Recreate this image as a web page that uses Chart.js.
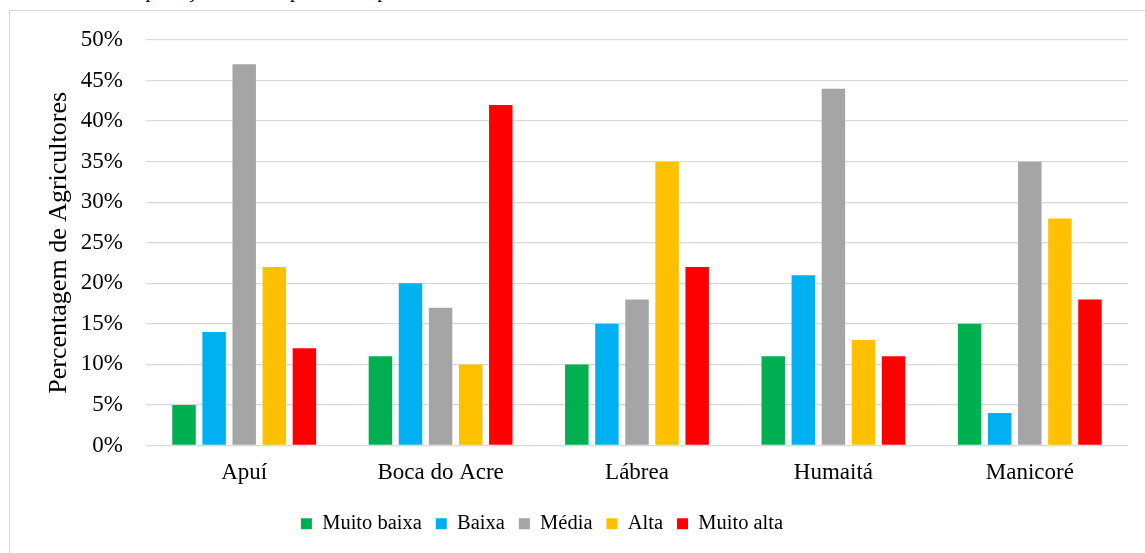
<!DOCTYPE html>
<html>
<head>
<meta charset="utf-8">
<script src="https://cdn.jsdelivr.net/npm/chart.js@4"></script>
<style>
  html, body { margin: 0; padding: 0; background: #fff; overflow: hidden; }
  #frame { position: absolute; left: 9px; top: 10px; width: 1200px; height: 600px; border: 1px solid #d9d9d9; }
  #caption { position: absolute; left: 28px; top: -20px; font: 20px "Liberation Serif", serif; color: #000; white-space: nowrap; line-height: 20px; }
  #wrap { position: absolute; left: 0; top: 0; width: 1145px; height: 553px; }
</style>
</head>
<body>
<div id="caption">Gráfico 11. Importação Cultural por município</div>
<div id="frame"></div>
<div id="wrap"><canvas id="myChart" width="1145" height="553"></canvas></div>
<script>
const municipios = ["Apuí", "Boca do Acre", "Lábrea", "Humaitá", "Manicoré"];

const muitoBaixa = [5, 11, 10, 11, 15];
const baixa = [14, 20, 15, 21, 4];
const media = [47, 17, 18, 44, 35];
const alta = [22, 10, 35, 13, 28];
const muitoAlta = [12, 42, 22, 11, 18];

const yTicks = [0, 5, 10, 15, 20, 25, 30, 35, 40, 45, 50];

const fonte = "'Liberation Serif', 'Times New Roman', serif";

function serie(label, values, color) {
    return {
        label: label,
        data: values,
        backgroundColor: color,
        borderWidth: 0,
        categoryPercentage: 0.766,
        barPercentage: 0.78
    };
}

let data = {
    labels: municipios,
    datasets: [
        serie("Muito baixa", muitoBaixa, "#00B050"),
        serie("Baixa", baixa, "#00B0F0"),
        serie("Média", media, "#A5A5A5"),
        serie("Alta", alta, "#FFC000"),
        serie("Muito alta", muitoAlta, "#FF0000")
    ]
};

// move legend a bit to the left, like the original
const legendShift = {
    id: "legendShift",
    afterLayout(chart) {
        chart.legend.left -= 22;
        chart.legend.right -= 22;
    }
};

let config = {
    type: "bar",
    data: data,
    plugins: [legendShift],
    options: {
        responsive: false,
        animation: false,
        layout: { padding: { left: 0, right: 17, top: 40, bottom: 9 } },
        scales: {
            x: {
                grid: { display: false, drawTicks: false },
                border: { display: false },
                ticks: { color: "#000", font: { family: fonte, size: 23 }, padding: 14 },
                afterFit(scale) { scale.height = 54; }
            },
            y: {
                min: 0,
                max: 50,
                afterBuildTicks(scale) { scale.ticks = yTicks.map(v => ({ value: v })); },
                grid: { color: "#d9d9d9", lineWidth: 1.3, drawTicks: false },
                border: { display: false },
                ticks: {
                    color: "#000",
                    font: { family: fonte, size: 23 },
                    padding: 23,
                    callback: v => v + "%"
                },
                title: {
                    display: true,
                    text: "Percentagem de Agricultores",
                    color: "#000",
                    font: { family: fonte, size: 26 },
                    padding: { top: 44, bottom: 0 }
                },
                afterFit(scale) { scale.width = 146; }
            }
        },
        plugins: {
            legend: {
                position: "bottom",
                labels: {
                    color: "#000",
                    font: { family: fonte, size: 20.5 },
                    boxWidth: 11,
                    boxHeight: 11,
                    padding: 14
                }
            },
            tooltip: { enabled: false }
        }
    }
};

let myChart = new Chart(document.getElementById("myChart"), config);
</script>
</body>
</html>
